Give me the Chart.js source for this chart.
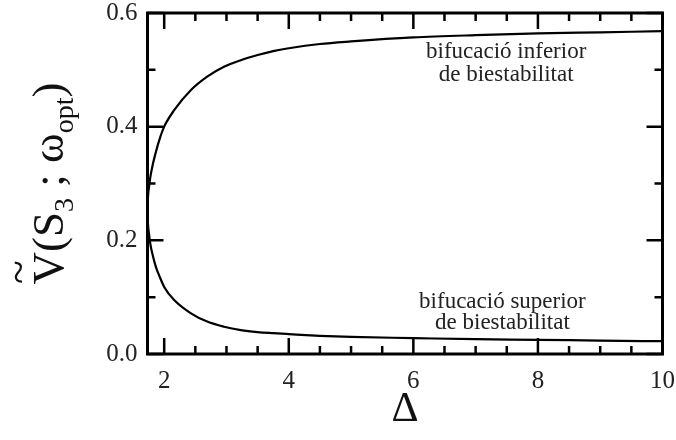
<!DOCTYPE html>
<html>
<head>
<meta charset="utf-8">
<script src="https://cdn.jsdelivr.net/npm/chart.js@4.4.0/dist/chart.umd.min.js"></script>
<style>
  html, body { margin: 0; padding: 0; background: #fff; }
  #wrap { width: 676px; height: 440px; }
</style>
</head>
<body>
<div id="wrap"><canvas id="bifChart"></canvas></div>
<script>
// branch that rises from the cusp (lower bistability bifurcation)
const deltaUpper = [1.732, 1.74, 1.76, 1.78, 1.82, 1.87, 1.92, 2.0, 2.16, 2.43, 2.69, 2.96, 3.23, 3.5, 3.75, 4.0, 4.5, 5, 6, 7, 8, 9, 10];
const vUpper = [0.25, 0.276, 0.297, 0.313, 0.335, 0.357, 0.376, 0.400, 0.429, 0.4645, 0.488, 0.5055, 0.517, 0.526, 0.533, 0.538, 0.5455, 0.550, 0.557, 0.561, 0.564, 0.566, 0.568];

// branch that falls from the cusp (upper bistability bifurcation)
const deltaLower = [1.732, 1.74, 1.76, 1.78, 1.82, 1.87, 1.92, 2.0, 2.16, 2.43, 2.69, 2.96, 3.23, 3.5, 3.75, 4.0, 4.5, 5, 6, 7, 8, 9, 10];
const vLower = [0.25, 0.228, 0.208, 0.192, 0.172, 0.152, 0.138, 0.118, 0.095, 0.0716, 0.057, 0.048, 0.042, 0.0385, 0.0366, 0.035, 0.032, 0.030, 0.028, 0.026, 0.025, 0.0235, 0.0225];

const xTicks = [2, 2.5, 3, 3.5, 4, 4.5, 5, 5.5, 6, 6.5, 7, 7.5, 8, 8.5, 9, 9.5, 10];
const xLabelled = [2, 4, 6, 8, 10];
const yTicks = [0, 0.1, 0.2, 0.3, 0.4, 0.5, 0.6];
const yLabelled = [0, 0.2, 0.4, 0.6];

const SERIF = '"Liberation Serif", "Times New Roman", serif';

function toPoints(xs, ys) {
    return xs.map((x, i) => ({ x: x, y: ys[i] }));
}

// box frame plus inward ticks on all four sides
const frameTicks = {
    id: 'frameTicks',
    afterDatasetsDraw(chart) {
        const { ctx, chartArea: a, scales: { x, y } } = chart;
        ctx.save();
        ctx.strokeStyle = '#000';
        ctx.lineWidth = 2.5;
        ctx.beginPath();
        xTicks.forEach(v => {
            const px = x.getPixelForValue(v);
            const len = xLabelled.includes(v) ? 16 : 8;
            ctx.moveTo(px, a.bottom); ctx.lineTo(px, a.bottom - len);
            ctx.moveTo(px, a.top); ctx.lineTo(px, a.top + len);
        });
        yTicks.forEach(v => {
            const py = y.getPixelForValue(v);
            const len = yLabelled.includes(v) ? 16 : 8;
            ctx.moveTo(a.left, py); ctx.lineTo(a.left + len, py);
            ctx.moveTo(a.right, py); ctx.lineTo(a.right - len, py);
        });
        ctx.stroke();
        ctx.lineWidth = 3;
        ctx.strokeRect(a.left, a.top, a.right - a.left, a.bottom - a.top);
        ctx.restore();
    }
};

// curve labels, placed in data coordinates
const curveNotes = {
    id: 'curveNotes',
    afterDraw(chart) {
        const { ctx, scales: { x, y } } = chart;
        const notes = [
            { x: 7.49, y: 0.531, text: 'bifucació inferior' },
            { x: 7.49, y: 0.491, text: 'de biestabilitat' },
            { x: 7.43, y: 0.092, text: 'bifucació superior' },
            { x: 7.43, y: 0.054, text: 'de biestabilitat' }
        ];
        ctx.save();
        ctx.font = '23px ' + SERIF;
        ctx.fillStyle = '#222';
        ctx.textAlign = 'center';
        ctx.textBaseline = 'middle';
        notes.forEach(n => ctx.fillText(n.text, x.getPixelForValue(n.x), y.getPixelForValue(n.y)));
        ctx.restore();
    }
};

// rotated y title with subscripts and the tilde over V
const yTitle = {
    id: 'yTitle',
    afterDraw(chart) {
        const { ctx, chartArea: a } = chart;
        const parts = [
            { t: 'V', size: 45, dy: 0 },
            { t: '(', size: 45, dy: 0 },
            { t: 'S', size: 45, dy: 0 },
            { t: '3', size: 28, dy: 10 },
            { t: ' ; ', size: 45, dy: 0 },
            { t: 'ω', size: 45, dy: 0 },
            { t: 'opt', size: 28, dy: 10 },
            { t: ')', size: 45, dy: 0 }
        ];
        ctx.save();
        let total = 0;
        parts.forEach(p => {
            ctx.font = p.size + 'px ' + SERIF;
            p.w = ctx.measureText(p.t).width;
            total += p.w;
        });
        ctx.translate(63, (a.top + a.bottom) / 2);
        ctx.rotate(-Math.PI / 2);
        ctx.fillStyle = '#111';
        ctx.textBaseline = 'alphabetic';
        ctx.textAlign = 'left';
        let u = -total / 2;
        parts.forEach(p => {
            ctx.font = p.size + 'px ' + SERIF;
            ctx.fillText(p.t, u, p.dy);
            p.u = u;
            u += p.w;
        });
        ctx.font = '44px ' + SERIF;
        ctx.textAlign = 'center';
        ctx.fillText('~', parts[0].u + parts[0].w / 2 - 4, -30);
        ctx.restore();
    }
};

new Chart(document.getElementById('bifChart').getContext('2d'), {
    type: 'line',
    data: {
        datasets: [
            {
                data: toPoints(deltaUpper, vUpper),
                borderColor: '#000',
                borderWidth: 2.2,
                pointRadius: 0,
                fill: false,
                cubicInterpolationMode: 'monotone'
            },
            {
                data: toPoints(deltaLower, vLower),
                borderColor: '#000',
                borderWidth: 2.2,
                pointRadius: 0,
                fill: false,
                cubicInterpolationMode: 'monotone'
            }
        ]
    },
    options: {
        responsive: true,
        maintainAspectRatio: false,
        animation: false,
        layout: { padding: 0 },
        plugins: {
            legend: { display: false },
            tooltip: { enabled: false }
        },
        scales: {
            x: {
                type: 'linear',
                min: 1.732,
                max: 10,
                grid: { display: false, drawTicks: false },
                border: { display: false },
                afterBuildTicks: s => { s.ticks = xTicks.map(v => ({ value: v })); },
                afterFit: s => {
                    s.height = 86;
                    s.paddingLeft = 0;
                    s.paddingRight = 13.5;
                },
                ticks: {
                    autoSkip: false,
                    maxRotation: 0,
                    padding: 12,
                    color: '#222',
                    font: { family: SERIF, size: 25 },
                    callback: v => xLabelled.includes(v) ? String(v) : ''
                },
                title: {
                    display: true,
                    text: 'Δ',
                    color: '#111',
                    font: { family: SERIF, size: 42 },
                    padding: { top: 0, bottom: 5 }
                }
            },
            y: {
                type: 'linear',
                min: 0,
                max: 0.6,
                grid: { display: false, drawTicks: false },
                border: { display: false },
                afterBuildTicks: s => { s.ticks = yTicks.map(v => ({ value: v })); },
                afterFit: s => {
                    s.width = 147.5;
                    s.paddingTop = 13;
                    s.paddingBottom = 0;
                },
                ticks: {
                    autoSkip: false,
                    padding: 10,
                    color: '#222',
                    font: { family: SERIF, size: 25 },
                    callback: v => yLabelled.includes(v) ? v.toFixed(1) : ''
                }
            }
        }
    },
    plugins: [frameTicks, curveNotes, yTitle]
});
</script>
</body>
</html>
